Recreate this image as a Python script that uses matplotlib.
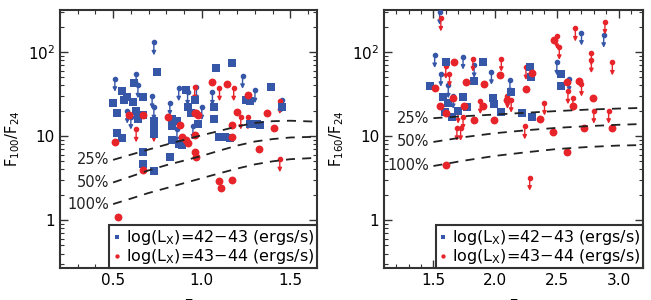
import numpy as np
import matplotlib.pyplot as plt
from matplotlib.ticker import MultipleLocator, LogLocator, NullFormatter, FixedLocator

plt.rcParams['font.family'] = ['DejaVu Sans']
plt.rcParams['mathtext.fontset'] = 'dejavusans'

BLUE = '#3656a8'
RED = '#e8242b'

# ---- panel 1: F100/F24 ----
z1_blue = [0.50, 0.52, 0.52, 0.55, 0.56, 0.55, 0.58, 0.61, 0.62, 0.63, 0.64, 0.67, 0.67,
           0.67, 0.67, 0.73, 0.73, 0.73, 0.73, 0.75, 0.83, 0.83, 0.83, 0.82, 0.86, 0.87,
           0.91, 0.89, 0.92, 0.94, 0.96, 0.98, 1.07, 1.08, 1.07, 1.10, 1.13, 1.17, 1.16,
           1.25, 1.27, 1.27, 1.31, 1.33, 1.39, 1.45]
f1_blue = [24.5, 18.6, 11.0, 34.0, 27.0, 9.4, 29.0, 25.7, 43.0, 20.0, 16.0, 18.0, 29.0,
           6.5, 4.7, 3.8, 10.5, 12.5, 15.0, 57.0, 16.0, 13.0, 9.0, 5.7, 15.0, 8.0,
           35.0, 7.8, 22.0, 19.0, 27.0, 14.0, 22.0, 64.0, 16.0, 9.7, 9.7, 74.0, 9.4,
           27.0, 26.0, 14.0, 14.0, 13.5, 38.0, 22.0]
z1_red = [0.51, 0.53, 0.59, 0.67, 0.67, 0.81, 0.88, 0.89, 0.91, 0.92, 0.96, 0.97, 0.98,
          0.96, 0.96, 0.97, 1.06, 1.14, 1.10, 1.11, 1.17, 1.17, 1.17, 1.20, 1.26, 1.32,
          1.37, 1.41]
f1_red = [8.6, 1.1, 18.0, 3.9, 18.0, 17.0, 13.5, 9.8, 9.0, 8.2, 18.6, 18.6, 18.0,
          10.3, 6.5, 5.7, 44.0, 42.0, 2.9, 2.4, 3.0, 9.8, 13.5, 19.5, 31.0, 7.0,
          19.0, 12.6]
# upper limits (top of arrow)
z1_blue_ul = [0.73, 0.51, 0.63, 0.64, 0.72, 0.82, 0.87, 0.92, 0.97, 1.06, 1.23, 1.30,
              1.45, 0.73, 0.58, 0.60, 0.95, 1.00, 0.86]
f1_blue_ul = [130, 48, 55, 40, 30, 25, 37, 33, 38, 33, 52, 35, 27, 22, 20, 17, 13, 22, 12]
z1_red_ul = [0.63, 0.73, 0.96, 1.10, 1.18, 1.22, 1.26, 1.44, 1.44]
f1_red_ul = [12.0, 12.0, 38.0, 37.0, 37.0, 17.0, 17.0, 26.0, 5.3]

# dust-fraction curves
z1_curve = [0.50, 0.60, 0.70, 0.80, 0.90, 1.00, 1.10, 1.20, 1.30, 1.40, 1.50, 1.65]
f1_25 = [5.2, 6.0, 6.9, 7.9, 9.0, 10.2, 11.5, 13.0, 14.3, 15.0, 15.2, 14.8]
f1_50 = [2.8, 3.3, 3.9, 4.5, 5.1, 5.8, 6.7, 7.7, 8.6, 9.2, 9.6, 9.8]
f1_100 = [1.55, 1.8, 2.1, 2.4, 2.75, 3.15, 3.6, 4.1, 4.6, 5.0, 5.3, 5.5]

# ---- panel 2: F160/F24 ----
z2_blue = [1.47, 1.60, 1.58, 1.59, 1.62, 1.65, 1.70, 1.74, 1.77, 1.83, 1.90, 1.98, 1.99,
           2.05, 2.13, 2.22, 2.28, 2.29, 2.30, 2.53, 2.53]
f2_blue = [39, 76, 29, 19.5, 25, 17, 20, 29, 22, 45, 75, 28, 24, 19.5, 33, 18.6, 67, 50,
           17, 55, 39]
z2_red = [1.51, 1.55, 1.60, 1.60, 1.67, 1.66, 1.75, 1.76, 1.83, 1.90, 1.91, 1.99, 2.04,
          2.10, 2.25, 2.30, 2.36, 2.47, 2.48, 2.58, 2.58, 2.63, 2.68, 2.72, 2.79, 2.95]
f2_red = [37, 23, 19, 4.5, 76, 28, 23, 44, 15.5, 23, 41, 15.5, 53, 27, 36, 56, 16, 11.2,
          138, 44, 6.5, 23, 45, 12.4, 28, 12.4]
z2_blue_ul = [1.55, 1.51, 1.74, 1.83, 1.97, 2.12, 2.50, 2.60, 2.70, 2.88, 1.56, 1.62, 1.66]
f2_blue_ul = [300, 92, 88, 70, 58, 46, 75, 48, 170, 160, 55, 40, 30]
z2_red_ul = [1.56, 1.60, 1.63, 1.82, 1.70, 1.74, 1.69, 1.72, 1.88, 2.05, 2.10, 2.13,
             2.25, 2.24, 2.28, 2.40, 2.50, 2.52, 2.65, 2.59, 2.78, 2.78, 2.80, 2.89,
             2.92, 2.95, 2.63, 2.70]
f2_red_ul = [250, 68, 55, 83, 20, 17, 12.5, 12.5, 26, 83, 30, 27, 66, 13, 3.2, 25, 155,
             115, 190, 34, 98, 80, 20, 230, 20, 75, 28, 42]
z2_curve = [1.50, 1.75, 2.00, 2.25, 2.50, 2.75, 3.00, 3.20]
f2_25 = [16.3, 17.2, 18.0, 18.9, 19.8, 20.6, 21.2, 21.6]
f2_50 = [8.5, 9.7, 10.8, 11.7, 12.5, 13.1, 13.6, 13.9]
f2_100 = [4.4, 5.1, 5.8, 6.4, 7.0, 7.4, 7.7, 7.8]

curve_labels = ['25%', '50%', '100%']

fig = plt.figure(figsize=(6.51, 3.0), dpi=100)
ax1 = fig.add_axes([0.092, 0.107, 0.395, 0.860])
ax2 = fig.add_axes([0.590, 0.107, 0.398, 0.860])


def upper_limits(ax, xs, ys, color):
    for x, y in zip(xs, ys):
        ax.annotate('', xy=(x, y * 0.70), xytext=(x, y),
                    arrowprops=dict(arrowstyle='-|>', color=color, lw=1.0,
                                    mutation_scale=6, shrinkA=0, shrinkB=0))
    ax.scatter(xs, ys, s=9, color=color, zorder=3)


def panel(ax, zb, fb, zr, fr, zbu, fbu, zru, fru, zc, curves, xlim, xticks, ylabel):
    ax.set_yscale('log')
    ax.set_xlim(*xlim)
    ax.set_ylim(0.27, 316)
    for c in curves:
        ax.plot(zc, c, color='#222222', lw=1.3, dashes=(5, 4), zorder=4)
    for lab, c in zip(curve_labels, curves):
        ax.text(zc[0] - 0.015 * (xlim[1] - xlim[0]), c[0], lab, ha='right', va='center',
                fontsize=10.5, color='#222222')
    upper_limits(ax, zbu, fbu, BLUE)
    upper_limits(ax, zru, fru, RED)
    ax.scatter(zb, fb, marker='s', s=32, color=BLUE, lw=0, zorder=3,
               label=r'log(L$_{\rm X}$)=42$-$43 (ergs/s)')
    ax.scatter(zr, fr, marker='o', s=32, color=RED, lw=0, zorder=3,
               label=r'log(L$_{\rm X}$)=43$-$44 (ergs/s)')
    ax.set_xticks(xticks)
    ax.xaxis.set_minor_locator(MultipleLocator(0.1))
    ax.yaxis.set_major_locator(FixedLocator([1, 10, 100]))
    ax.set_yticklabels(['1', '10', r'10$^2$'])
    ax.yaxis.set_minor_locator(LogLocator(base=10, subs=np.arange(2, 10)))
    ax.yaxis.set_minor_formatter(NullFormatter())
    ax.tick_params(which='both', direction='in', top=True, right=True, color='#333333',
                   labelsize=11)
    ax.tick_params(which='major', length=6, width=1.0)
    ax.tick_params(which='minor', length=3, width=0.8)
    for s in ax.spines.values():
        s.set_linewidth(1.5)
        s.set_color('#333333')
    ax.set_ylabel(ylabel, fontsize=10.5, labelpad=4)
    ax.set_xlabel('z', fontsize=11, labelpad=6)
    leg = ax.legend(loc='lower right', borderaxespad=0, fontsize=11.5, markerscale=0.55,
                    handletextpad=0.3, handlelength=0.6, borderpad=0.15,
                    labelspacing=0.0, fancybox=False, framealpha=1)
    leg.get_frame().set_edgecolor('#333333')
    leg.get_frame().set_linewidth(1.5)


panel(ax1, z1_blue, f1_blue, z1_red, f1_red, z1_blue_ul, f1_blue_ul, z1_red_ul, f1_red_ul,
      z1_curve, [f1_25, f1_50, f1_100], (0.2, 1.65), [0.5, 1.0, 1.5],
      r'F$_{100}$/F$_{24}$')
panel(ax2, z2_blue, f2_blue, z2_red, f2_red, z2_blue_ul, f2_blue_ul, z2_red_ul, f2_red_ul,
      z2_curve, [f2_25, f2_50, f2_100], (1.1, 3.2), [1.5, 2.0, 2.5, 3.0],
      r'F$_{160}$/F$_{24}$')

fig.savefig('out.png', dpi=100)
